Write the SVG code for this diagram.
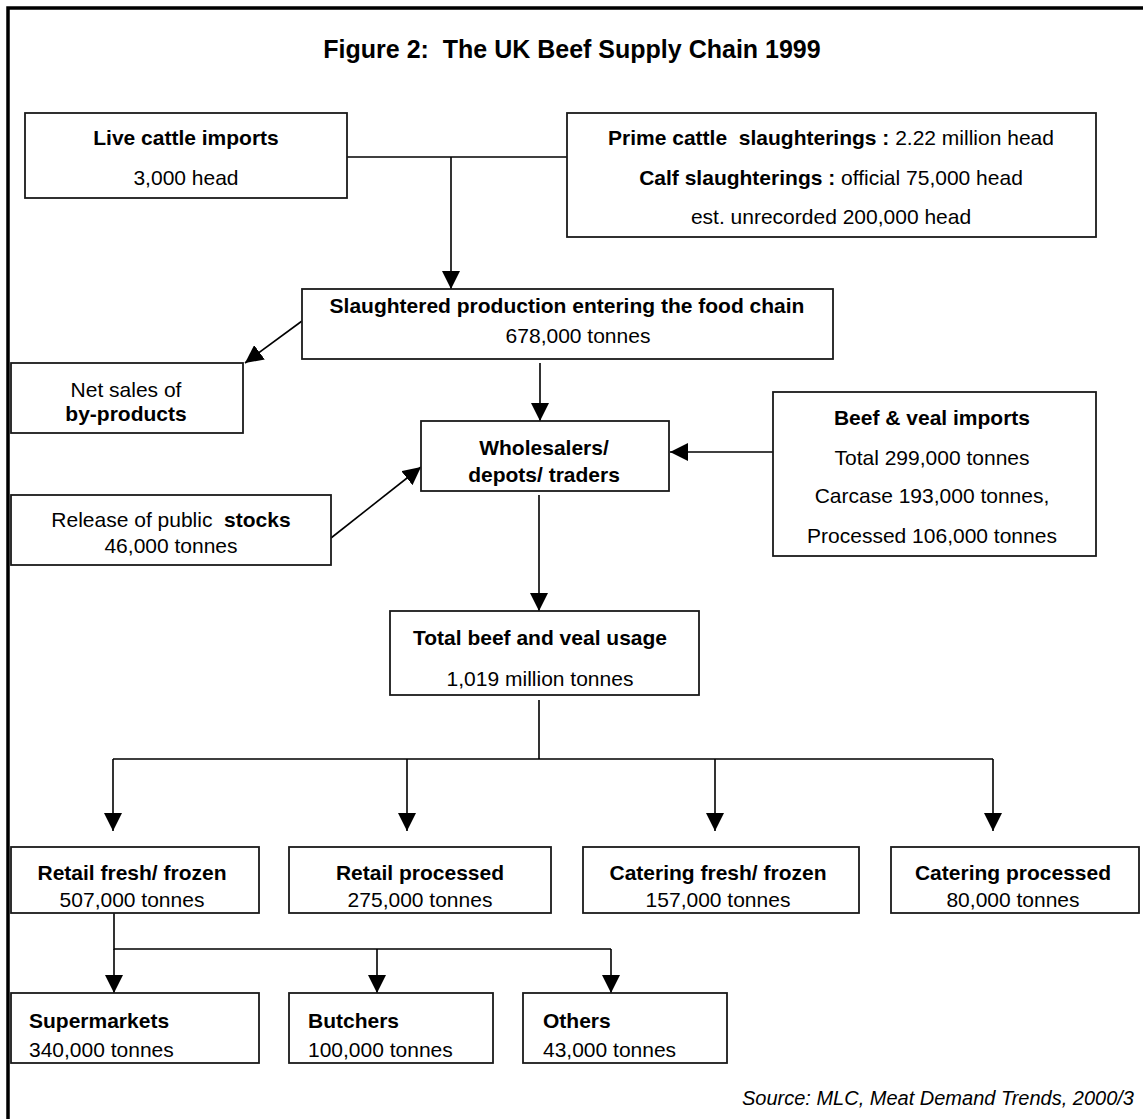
<svg xmlns="http://www.w3.org/2000/svg" width="1143" height="1119" viewBox="0 0 1143 1119">
<style>
text{font-family:"Liberation Sans",Arial,sans-serif;font-size:21px;fill:#000;white-space:pre}
.b{font-weight:bold}
.c{text-anchor:middle}
.box{fill:#fff;stroke:#1a1a1a;stroke-width:1.8}
.ln{fill:none;stroke:#000;stroke-width:1.6}
.src{font-style:italic;font-size:20px;text-anchor:end}
</style>
<defs>
<marker id="ah" markerUnits="userSpaceOnUse" markerWidth="18" markerHeight="18" refX="18" refY="9" orient="auto">
<path d="M0,0 L18,9 L0,18 z" fill="#000"/>
</marker>
</defs>
<rect width="1143" height="1119" fill="#fff"/>
<path d="M8,1119 V8 H1143" fill="none" stroke="#000" stroke-width="3.5"/>
<text class="b c" x="572" y="58" style="font-size:25px" xml:space="preserve">Figure 2:  The UK Beef Supply Chain 1999</text>

<g id="connectors">
<path class="ln" d="M347,157 H567"/>
<path class="ln" d="M451,157 V289" marker-end="url(#ah)"/>
<path class="ln" d="M302,321 L245,363" marker-end="url(#ah)"/>
<path class="ln" d="M540,363 V421" marker-end="url(#ah)"/>
<path class="ln" d="M331,538 L421,467" marker-end="url(#ah)"/>
<path class="ln" d="M773,452 H670" marker-end="url(#ah)"/>
<path class="ln" d="M539,495 V611" marker-end="url(#ah)"/>
<path class="ln" d="M539,700 V759 M113,759 H993"/>
<path class="ln" d="M113,759 V831" marker-end="url(#ah)"/>
<path class="ln" d="M407,759 V831" marker-end="url(#ah)"/>
<path class="ln" d="M715,759 V831" marker-end="url(#ah)"/>
<path class="ln" d="M993,759 V831" marker-end="url(#ah)"/>
<path class="ln" d="M114,913 V949 H611"/>
<path class="ln" d="M114,949 V993" marker-end="url(#ah)"/>
<path class="ln" d="M377,949 V993" marker-end="url(#ah)"/>
<path class="ln" d="M611,949 V993" marker-end="url(#ah)"/>
</g>

<g id="live">
<rect class="box" x="25" y="113" width="322" height="85"/>
<text class="b c" x="186" y="145">Live cattle imports</text>
<text class="c" x="186" y="185">3,000 head</text>
</g>

<g id="prime">
<rect class="box" x="567" y="113" width="529" height="124"/>
<text class="c" x="831" y="145" xml:space="preserve"><tspan class="b">Prime cattle  slaughterings : </tspan>2.22 million head</text>
<text class="c" x="831" y="185" xml:space="preserve"><tspan class="b">Calf slaughterings : </tspan>official 75,000 head</text>
<text class="c" x="831" y="224">est. unrecorded 200,000 head</text>
</g>

<g id="slaughtered">
<rect class="box" x="302" y="289" width="531" height="70"/>
<text class="b c" x="567" y="313">Slaughtered production entering the food chain</text>
<text class="c" x="578" y="343">678,000 tonnes</text>
</g>

<g id="netsales">
<rect class="box" x="11" y="363" width="232" height="70"/>
<text class="c" x="126" y="397">Net sales of</text>
<text class="b c" x="126" y="421">by-products</text>
</g>

<g id="wholesalers">
<rect class="box" x="421" y="421" width="248" height="70"/>
<text class="b c" x="544" y="455">Wholesalers/</text>
<text class="b c" x="544" y="482">depots/ traders</text>
</g>

<g id="release">
<rect class="box" x="11" y="495" width="320" height="70"/>
<text class="c" x="171" y="527" xml:space="preserve">Release of public  <tspan class="b">stocks</tspan></text>
<text class="c" x="171" y="553">46,000 tonnes</text>
</g>

<g id="imports">
<rect class="box" x="773" y="392" width="323" height="164"/>
<text class="b c" x="932" y="425">Beef &amp; veal imports</text>
<text class="c" x="932" y="465">Total 299,000 tonnes</text>
<text class="c" x="932" y="503">Carcase 193,000 tonnes,</text>
<text class="c" x="932" y="543">Processed 106,000 tonnes</text>
</g>

<g id="total">
<rect class="box" x="390" y="611" width="309" height="84"/>
<text class="b c" x="540" y="645">Total beef and veal usage</text>
<text class="c" x="540" y="686">1,019 million tonnes</text>
</g>

<g id="retailfresh">
<rect class="box" x="11" y="847" width="248" height="66"/>
<text class="b c" x="132" y="880">Retail fresh/ frozen</text>
<text class="c" x="132" y="907">507,000 tonnes</text>
</g>

<g id="retailprocessed">
<rect class="box" x="289" y="847" width="262" height="66"/>
<text class="b c" x="420" y="880">Retail processed</text>
<text class="c" x="420" y="907">275,000 tonnes</text>
</g>

<g id="cateringfresh">
<rect class="box" x="583" y="847" width="276" height="66"/>
<text class="b c" x="718" y="880">Catering fresh/ frozen</text>
<text class="c" x="718" y="907">157,000 tonnes</text>
</g>

<g id="cateringprocessed">
<rect class="box" x="891" y="847" width="248" height="66"/>
<text class="b c" x="1013" y="880">Catering processed</text>
<text class="c" x="1013" y="907">80,000 tonnes</text>
</g>

<g id="supermarkets">
<rect class="box" x="11" y="993" width="248" height="70"/>
<text class="b" x="29" y="1028">Supermarkets</text>
<text x="29" y="1057">340,000 tonnes</text>
</g>

<g id="butchers">
<rect class="box" x="289" y="993" width="204" height="70"/>
<text class="b" x="308" y="1028">Butchers</text>
<text x="308" y="1057">100,000 tonnes</text>
</g>

<g id="others">
<rect class="box" x="523" y="993" width="204" height="70"/>
<text class="b" x="543" y="1028">Others</text>
<text x="543" y="1057">43,000 tonnes</text>
</g>

<text class="src" x="1134" y="1105">Source: MLC, Meat Demand Trends, 2000/3</text>
</svg>
